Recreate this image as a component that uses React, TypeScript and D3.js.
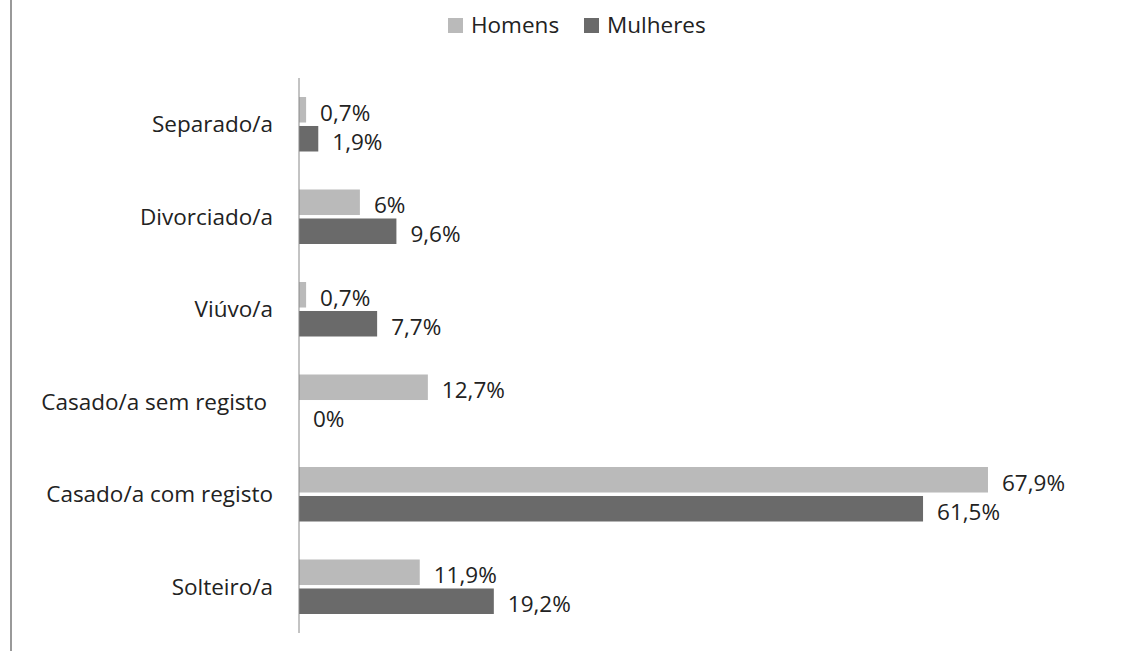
import React from 'react'
import * as d3 from 'd3'

const categories = ['Separado/a', 'Divorciado/a', 'Viúvo/a', 'Casado/a sem registo ', 'Casado/a com registo', 'Solteiro/a']
const seriesNames = ['Homens', 'Mulheres']
const homens = [0.7, 6, 0.7, 12.7, 67.9, 11.9]
const mulheres = [1.9, 9.6, 7.7, 0, 61.5, 19.2]
const colors = ['#bababa', '#6a6a6a']

const W = 1121
const H = 651
const font = "'Open Sans', sans-serif"
const fs = 22.5

const fmt = (v: number) => String(v).replace('.', ',') + '%'

export default function App() {
  const axisX = 299
  const top = 78
  const bottom = 633

  const x = d3.scaleLinear().domain([0, 1]).range([axisX, axisX + 1014.7])
  const y = d3.scaleBand<string>().domain(categories).range([top, bottom]).padding(0)
  const inner = d3.scaleBand<string>().domain(seriesNames).range([19, y.bandwidth() - 19]).paddingInner(0.12)

  const series = [homens, mulheres]

  return (
    <svg width={W} height={H} style={{ position: 'absolute', left: 0, top: 0, background: '#fff' }} fontFamily={font}>
      <line x1={11} x2={11} y1={0} y2={H} stroke="#999" strokeWidth={2} />

      {/* legend */}
      {seriesNames.map((s, i) => {
        const lx = [448, 584][i]
        return (
          <g key={s}>
            <rect x={lx} y={18} width={15} height={15} fill={colors[i]} />
            <text x={lx + 23} y={25} dy="0.35em" fontSize={fs} fill="#222">{s}</text>
          </g>
        )
      })}

      {categories.map((c, ci) => (
        <g key={c} transform={`translate(0,${y(c)})`}>
          <text x={273} y={y.bandwidth() / 2} dy="0.35em" textAnchor="end" fontSize={fs} fill="#222" style={{ whiteSpace: 'pre' }}>{c}</text>
          {series.map((vals, si) => {
            const v = vals[ci]
            const by = inner(seriesNames[si])!
            const bw = x(v / 100) - axisX
            return (
              <g key={si}>
                {bw > 0 && <rect x={axisX} y={by} width={bw} height={inner.bandwidth()} fill={colors[si]} />}
                <text x={x(v / 100) + 14} y={by + inner.bandwidth() / 2 + 3} dy="0.35em" fontSize={fs} fill="#222">{fmt(v)}</text>
              </g>
            )
          })}
        </g>
      ))}

      <line x1={axisX} x2={axisX} y1={top} y2={bottom} stroke="#888" strokeWidth={1} />
    </svg>
  )
}
